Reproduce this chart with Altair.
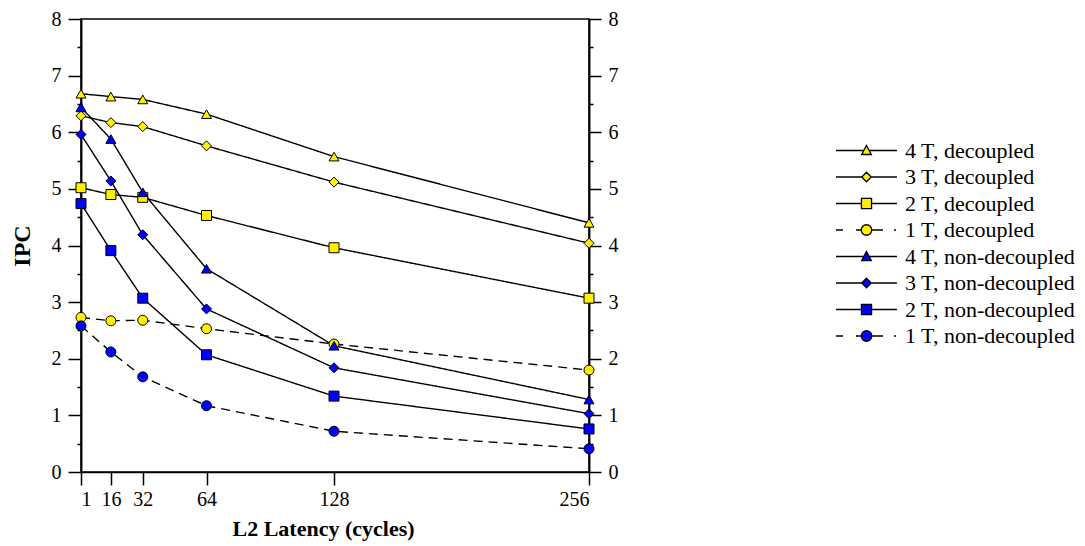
import altair as alt
import pandas as pd

latency = [1, 16, 32, 64, 128, 256]
series_names = [
    "4 T, decoupled", "3 T, decoupled", "2 T, decoupled", "1 T, decoupled",
    "4 T, non-decoupled", "3 T, non-decoupled", "2 T, non-decoupled", "1 T, non-decoupled",
]
ipc_4t_dec = [6.68, 6.63, 6.58, 6.32, 5.57, 4.40]
ipc_3t_dec = [6.29, 6.17, 6.10, 5.76, 5.12, 4.04]
ipc_2t_dec = [5.02, 4.90, 4.85, 4.53, 3.96, 3.07]
ipc_1t_dec = [2.73, 2.67, 2.68, 2.53, 2.26, 1.80]
ipc_4t_non = [6.44, 5.88, 4.94, 3.59, 2.23, 1.28]
ipc_3t_non = [5.96, 5.14, 4.19, 2.88, 1.84, 1.03]
ipc_2t_non = [4.74, 3.91, 3.07, 2.07, 1.34, 0.76]
ipc_1t_non = [2.58, 2.12, 1.68, 1.17, 0.72, 0.41]
major_ticks = [0, 1, 2, 3, 4, 5, 6, 7, 8]
minor_ticks = [0.5, 1.5, 2.5, 3.5, 4.5, 5.5, 6.5, 7.5]

all_series = [ipc_4t_dec, ipc_3t_dec, ipc_2t_dec, ipc_1t_dec,
              ipc_4t_non, ipc_3t_non, ipc_2t_non, ipc_1t_non]
rows = []
for name, vals in zip(series_names, all_series):
    for lat, v in zip(latency, vals):
        rows.append({"latency": lat, "ipc": v, "series": name})
df = pd.DataFrame(rows)

YELLOW = "#FFF000"
BLUE = "#0000FF"
fills = [YELLOW] * 4 + [BLUE] * 4
shapes = ["triangle-up", "diamond", "square", "circle"] * 2
dashes = [[1, 0], [1, 0], [1, 0], [9, 6]] * 2
strokes = ["black"] * 8

tri = "M-2.9,0H-0.26M0.26,0H2.9M0,-0.48L0.46,0.38L-0.46,0.38Z"
dia = "M-2.9,0H-0.45M0.45,0H2.9M0,-0.45L0.45,0L0,0.45L-0.45,0Z"
sq = "M-2.9,0H-0.48M0.48,0H2.9M-0.48,-0.48H0.48V0.48H-0.48Z"
circ = ("M-2.9,0H-2.24M-1.0,0H-0.5M0.5,0H1.57M2.62,0H2.81"
        "M-0.5,0A0.5,0.5 0 1,0 0.5,0A0.5,0.5 0 1,0 -0.5,0Z")
legend_paths = [tri, dia, sq, circ] * 2

FONT = "Liberation Serif"
xscale = alt.Scale(domain=[1, 256], nice=False, zero=False)
yscale = alt.Scale(domain=[0, 8], nice=False, zero=True)

x_axis = alt.Axis(values=latency, tickSize=13, labelPadding=4,
                  title="L2 Latency (cycles)", titleFontSize=22, titlePadding=9,
                  titleX=242)
x_enc = alt.X("latency:Q", scale=xscale, axis=x_axis)

lines = alt.Chart(df).mark_line(color="black", strokeWidth=1.4).encode(
    x=x_enc,
    y=alt.Y("ipc:Q", scale=yscale,
            axis=alt.Axis(values=major_ticks, tickSize=13, labelPadding=7,
                          title="IPC", titleFontSize=24, titlePadding=17,
                          orient="left")),
    detail="series:N",
    strokeDash=alt.StrokeDash("series:N", scale=alt.Scale(domain=series_names, range=dashes),
                              legend=None),
)

points = alt.Chart(df).mark_point(filled=True, stroke="black", strokeWidth=1, size=100,
                                  opacity=1).encode(
    x=x_enc,
    y=alt.Y("ipc:Q", scale=yscale,
            axis=alt.Axis(values=major_ticks, tickSize=12, labelPadding=7,
                          title=None, orient="right")),
    shape=alt.Shape("series:N", scale=alt.Scale(domain=series_names, range=shapes),
                    legend=None),
    fill=alt.Fill("series:N", scale=alt.Scale(domain=series_names, range=fills),
                  legend=None),
)

minor_left = alt.Chart(df).mark_point(opacity=0).encode(
    y=alt.Y("ipc:Q", scale=yscale,
            axis=alt.Axis(values=minor_ticks, tickSize=4, labels=False,
                          title=None, orient="left")),
)
minor_right = alt.Chart(df).mark_point(opacity=0).encode(
    y=alt.Y("ipc:Q", scale=yscale,
            axis=alt.Axis(values=minor_ticks, tickSize=4, labels=False,
                          title=None, orient="right")),
)

leg = alt.Legend(orient="none", legendX=774, legendY=120,
                 symbolSize=441, labelOffset=27, rowPadding=3.5,
                 labelFont=FONT, labelFontSize=22, labelColor="black",
                 symbolStrokeColor="black", symbolStrokeWidth=1.3,
                 padding=0, labelLimit=300)

legend_layer = alt.Chart(df).transform_filter("false").mark_point(
    filled=True, strokeWidth=1.3, opacity=1).encode(
    shape=alt.Shape("series:N", scale=alt.Scale(domain=series_names, range=legend_paths),
                    title=None, legend=leg),
    fill=alt.Fill("series:N", scale=alt.Scale(domain=series_names, range=fills),
                  title=None, legend=leg),
    stroke=alt.Stroke("series:N", scale=alt.Scale(domain=series_names, range=strokes),
                      title=None, legend=leg),
)

chart = alt.layer(lines, points, minor_left, minor_right, legend_layer).resolve_scale(
    y="shared", shape="independent", fill="independent", stroke="independent"
).resolve_axis(y="independent").properties(
    width=508, height=453,
    autosize=alt.AutoSizeParams(type="none"),
    padding={"left": 73, "top": 11, "right": 488, "bottom": 74},
).configure_view(stroke="black", strokeWidth=1.5).configure_axis(
    labelFont=FONT, labelFontSize=20, labelColor="black",
    titleFont=FONT, titleColor="black", titleFontWeight="bold",
    domainColor="black", domainWidth=1.5, tickColor="black", tickWidth=1.5,
    grid=False,
).configure_legend(symbolStrokeColor="black", symbolStrokeWidth=1.3)

chart.save("out.html", embed_options={"renderer": "svg", "actions": False})
